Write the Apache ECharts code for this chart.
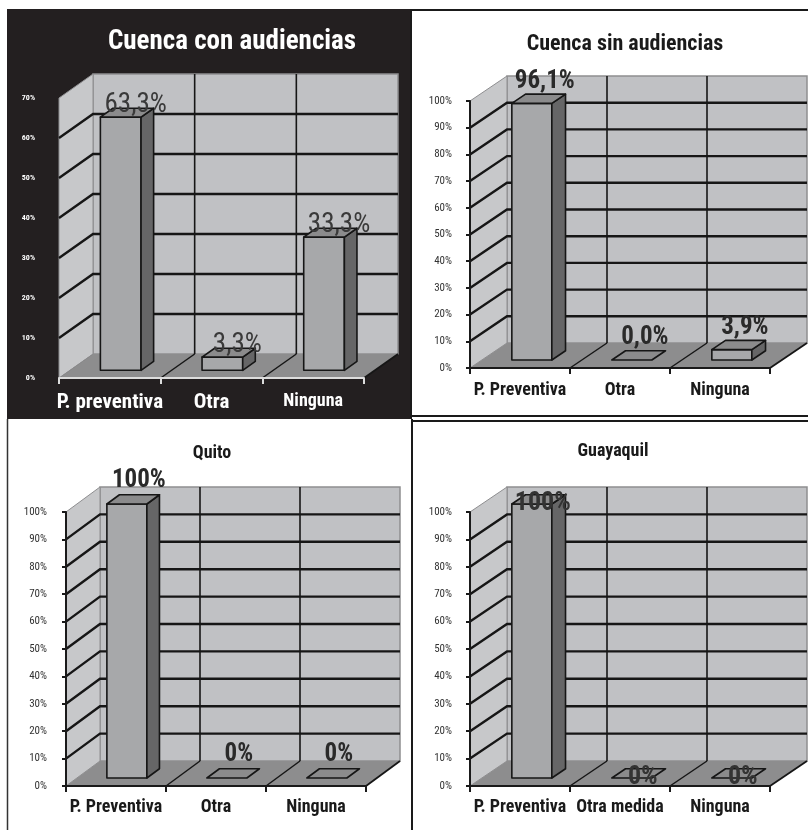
<!DOCTYPE html>
<html>
<head>
<meta charset="utf-8">
<script src="https://cdn.jsdelivr.net/npm/echarts@6/dist/echarts.min.js"></script>
<style>
html,body{margin:0;padding:0;background:#fff;}
#chart{width:808px;height:830px;}
</style>
</head>
<body>
<div id="chart"></div>
<script>
// ---- data ----
const titles = ['Cuenca con audiencias', 'Cuenca sin audiencias', 'Quito', 'Guayaquil'];
const cats1 = ['P. preventiva', 'Otra', 'Ninguna'];
const vals1 = [63.3, 3.3, 33.3];
const cats2 = ['P. Preventiva', 'Otra', 'Ninguna'];
const vals2 = [96.1, 0.0, 3.9];
const cats3 = ['P. Preventiva', 'Otra', 'Ninguna'];
const vals3 = [100, 0, 0];
const cats4 = ['P. Preventiva', 'Otra medida', 'Ninguna'];
const vals4 = [100, 0, 0];
const yMax = [70, 100, 100, 100];
const yStep = 10;
const decimals = [1, 1, 0, 0];

// ---- style / layout ----
const FN = "'Liberation Sans Narrow','Arial Narrow','Roboto Condensed','DejaVu Sans Condensed',sans-serif";
const panels = [
  {cats: cats1, vals: vals1, grid: {left: 59, top: 98, width: 305, height: 280}, dx: 34, dy: -24,
   title: {x: 227, y: 24, size: 27, color: '#ffffff'},
   yLab: {color: '#ffffff', fontSize: 8, fontWeight: 'bold', margin: 24},
   xLab: {color: '#ffffff', fontSize: 21, fontWeight: 'bold', margin: 14, smallLast: 18},
   axisColor: '#dcdcdc', showYLine: false,
   val: {dx: 15, dy: -12, size: 27, weight: 'normal', color: '#3a3a3a'}},
  {cats: cats2, vals: vals2, grid: {left: 470, top: 101, width: 300, height: 267}, dx: 37, dy: -25,
   title: {x: 620, y: 28, size: 22, color: '#1a1a1a'},
   yLab: {color: '#333333', fontSize: 11, fontWeight: 'normal', margin: 18},
   xLab: {color: '#1a1a1a', fontSize: 18, fontWeight: 'bold', margin: 13},
   axisColor: '#1a1a1a', showYLine: true,
   val: {dx: 13, dy: -22, size: 25, weight: 'bold', color: '#2a2a2a'}},
  {cats: cats3, vals: vals3, grid: {left: 66, top: 512, width: 300, height: 274}, dx: 34, dy: -25,
   title: {x: 207, y: 439, size: 18, color: '#1a1a1a'},
   yLab: {color: '#333333', fontSize: 11, fontWeight: 'normal', margin: 19},
   xLab: {color: '#1a1a1a', fontSize: 18, fontWeight: 'bold', margin: 12},
   axisColor: '#1a1a1a', showYLine: true,
   val: {dx: 12, dy: -23, size: 25, weight: 'bold', color: '#2a2a2a'}},
  {cats: cats4, vals: vals4, grid: {left: 470, top: 512, width: 300, height: 274}, dx: 37, dy: -25,
   title: {x: 608, y: 437, size: 18, color: '#1a1a1a'},
   yLab: {color: '#333333', fontSize: 11, fontWeight: 'normal', margin: 18},
   xLab: {color: '#1a1a1a', fontSize: 18, fontWeight: 'bold', margin: 12},
   axisColor: '#1a1a1a', showYLine: true,
   val: {dx: 11, dy: -1, size: 26, weight: 'bold', color: '#333333'}}
];

const COL = {back: '#c0c1c4', side: '#c7c8ca', floor: '#8d8d8e', barFront: '#a7a8aa', barSide: '#666667', barTop: '#8b8b8c', line: '#161616', edge: '#8e8e90'};
const FRONT_F = 0.32, DEPTH_F = 0.37, BAR_W = 0.4;

const grids = [], xAxes = [], yAxes = [], series = [], titleOpts = [];

panels.forEach((p, k) => {
  grids.push(Object.assign({}, p.grid));
  titleOpts.push({text: titles[k], left: p.title.x, top: p.title.y, textAlign: 'center',
    textStyle: {fontFamily: FN, fontWeight: 'bold', fontSize: p.title.size, color: p.title.color}});
  const xl = {fontFamily: FN, color: p.xLab.color, fontSize: p.xLab.fontSize, fontWeight: p.xLab.fontWeight, margin: p.xLab.margin, interval: 0};
  if (p.xLab.smallLast) {
    const last = p.cats.length - 1;
    xl.formatter = function (val, idx) { return idx === last ? '{s|' + val + '}' : val; };
    xl.rich = {s: {fontFamily: FN, color: p.xLab.color, fontSize: p.xLab.smallLast, fontWeight: 'bold', padding: [0, 0, 4, 0]}};
  }
  xAxes.push({type: 'category', gridIndex: k, data: p.cats, z: 10,
    axisLine: {show: true, lineStyle: {color: p.axisColor, width: 2}},
    axisTick: {show: true, length: 6, alignWithLabel: false, lineStyle: {color: p.axisColor, width: 2}},
    axisLabel: xl,
    splitLine: {show: false}});
  yAxes.push({type: 'value', gridIndex: k, min: 0, max: yMax[k], interval: yStep, z: 10,
    axisLine: {show: p.showYLine, lineStyle: {color: p.axisColor, width: 2}},
    axisTick: {show: p.showYLine, length: 4, lineStyle: {color: p.axisColor, width: 2}},
    axisLabel: {formatter: '{value}%', fontFamily: FN, color: p.yLab.color, fontSize: p.yLab.fontSize, fontWeight: p.yLab.fontWeight, margin: p.yLab.margin},
    splitLine: {show: false}});

  const dx = p.dx, dy = p.dy, n = p.cats.length;

  // walls + floor
  series.push({type: 'custom', xAxisIndex: k, yAxisIndex: k, z: 1, silent: true,
    data: [[0, 0]],
    renderItem: function (params, api) {
      const cs = params.coordSys;
      const L = cs.x, R = cs.x + cs.width, T = cs.y, B = cs.y + cs.height;
      const bw = cs.width / n;
      const ch = [];
      ch.push({type: 'polygon', shape: {points: [[L + dx, B + dy], [R + dx, B + dy], [R + dx, T + dy], [L + dx, T + dy]]},
        style: {fill: COL.back, stroke: COL.edge, lineWidth: 1.5}});
      ch.push({type: 'polygon', shape: {points: [[L, B], [L + dx, B + dy], [L + dx, T + dy], [L, T]]},
        style: {fill: COL.side, stroke: COL.edge, lineWidth: 1}});
      ch.push({type: 'polygon', shape: {points: [[L, B], [R, B], [R + dx, B + dy], [L + dx, B + dy]]},
        style: {fill: COL.floor}});
      for (let j = 1; j < n; j++) {
        const x = L + j * bw;
        ch.push({type: 'line', shape: {x1: x + dx, y1: B + dy, x2: x + dx, y2: T + dy}, style: {stroke: COL.line, lineWidth: 1.6}});
        ch.push({type: 'line', shape: {x1: x, y1: B, x2: x + dx, y2: B + dy}, style: {stroke: COL.line, lineWidth: 1.5}});
      }
      ch.push({type: 'line', shape: {x1: R, y1: B, x2: R + dx, y2: B + dy}, style: {stroke: COL.line, lineWidth: 1.8}});
      return {type: 'group', children: ch};
    }});

  // gridlines on back and side wall
  const ticks = [];
  for (let t = yStep; t < yMax[k]; t += yStep) ticks.push([0, t]);
  series.push({type: 'custom', xAxisIndex: k, yAxisIndex: k, z: 2, silent: true,
    data: ticks,
    renderItem: function (params, api) {
      const cs = params.coordSys;
      const L = cs.x, R = cs.x + cs.width;
      const y = api.coord([0, api.value(1)])[1];
      return {type: 'polyline', shape: {points: [[L, y], [L + dx, y + dy], [R + dx, y + dy]]},
        style: {stroke: COL.line, lineWidth: 2.4, fill: null}};
    }});

  // 3D bars with value labels
  series.push({type: 'custom', xAxisIndex: k, yAxisIndex: k, z: 3, silent: true,
    data: p.vals.map((v, i) => [i, v]),
    renderItem: function (params, api) {
      const i = api.value(0), v = api.value(1);
      const c0 = api.coord([i, 0]), c1 = api.coord([i, v]);
      const bw = api.size([1, 0])[0];
      const w = bw * BAR_W;
      const fx = FRONT_F * dx, fy = FRONT_F * dy;
      const ddx = DEPTH_F * dx, ddy = DEPTH_F * dy;
      const xL = c0[0] + fx - w / 2, xR = c0[0] + fx + w / 2;
      const yB = c0[1] + fy, yT = c1[1] + fy;
      const st = {stroke: COL.line, lineWidth: 1.6, lineJoin: 'round'};
      const ch = [];
      if (yB - yT > 0.5) {
        ch.push({type: 'polygon', shape: {points: [[xL, yT], [xR, yT], [xR, yB], [xL, yB]]}, style: Object.assign({fill: COL.barFront}, st)});
        ch.push({type: 'polygon', shape: {points: [[xR, yT], [xR + ddx, yT + ddy], [xR + ddx, yB + ddy], [xR, yB]]}, style: Object.assign({fill: COL.barSide}, st)});
      }
      ch.push({type: 'polygon', shape: {points: [[xL, yT], [xR, yT], [xR + ddx, yT + ddy], [xL + ddx, yT + ddy]]}, style: Object.assign({fill: COL.barTop}, st)});
      const txt = v.toFixed(decimals[k]).replace('.', ',') + '%';
      ch.push({type: 'text', x: (xL + xR) / 2 + p.val.dx, y: yT + p.val.dy, z2: 10,
        style: {text: txt, align: 'center', verticalAlign: 'middle', fontFamily: FN, fontSize: p.val.size, fontWeight: p.val.weight, fill: p.val.color}});
      return {type: 'group', children: ch};
    }});
});

const chart = echarts.init(document.getElementById('chart'), null, {renderer: 'canvas'});
chart.setOption({
  animation: false,
  backgroundColor: '#ffffff',
  graphic: [
    {type: 'rect', shape: {x: 7, y: 9, width: 405, height: 410}, style: {fill: '#231f20'}, z: -10},
    {type: 'line', shape: {x1: 410, y1: 10, x2: 808, y2: 10}, style: {stroke: '#1a1a1a', lineWidth: 2}, z: -5},
    {type: 'line', shape: {x1: 411, y1: 9, x2: 411, y2: 418}, style: {stroke: '#1a1a1a', lineWidth: 2}, z: -5},
    {type: 'line', shape: {x1: 412, y1: 416, x2: 808, y2: 416}, style: {stroke: '#1a1a1a', lineWidth: 2}, z: -5},
    {type: 'line', shape: {x1: 412, y1: 421, x2: 808, y2: 421}, style: {stroke: '#1a1a1a', lineWidth: 2}, z: -5},
    {type: 'line', shape: {x1: 412, y1: 419, x2: 412, y2: 830}, style: {stroke: '#1a1a1a', lineWidth: 2}, z: -5},
    {type: 'line', shape: {x1: 7.5, y1: 419, x2: 7.5, y2: 830}, style: {stroke: '#333333', lineWidth: 1.5}, z: -5}
  ],
  title: titleOpts,
  grid: grids,
  xAxis: xAxes,
  yAxis: yAxes,
  series: series
});
</script>
</body>
</html>
